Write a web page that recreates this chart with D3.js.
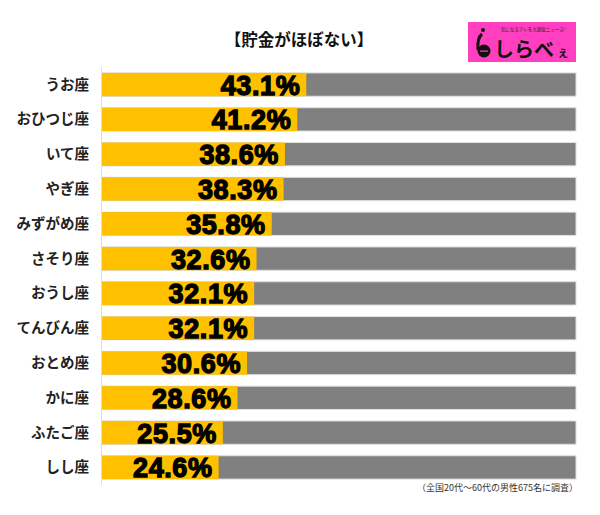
<!DOCTYPE html>
<html><head><meta charset="utf-8">
<script src="https://cdn.jsdelivr.net/npm/d3@7"></script>
<style>body{margin:0;background:#fff}</style>
</head><body>
<script>
const categories = ["うお座","おひつじ座","いて座","やぎ座","みずがめ座","さそり座","おうし座","てんびん座","おとめ座","かに座","ふたご座","しし座"];
const values = [43.1,41.2,38.6,38.3,35.8,32.6,32.1,32.1,30.6,28.6,25.5,24.6];
const title = "【貯金がほぼない】";
const note = "（全国20代～60代の男性675名に調査）";

const W = 600, H = 515;
const svg = d3.select("body").append("svg").attr("width", W).attr("height", H)
  .style("font-family", "'Noto Sans CJK JP', sans-serif");

const x = d3.scaleLinear().domain([0, 100]).range([102, 576]);
const y = d3.scaleBand().domain(categories).range([67, 485]).paddingInner(0.33).paddingOuter(0.17);

// title
svg.append("text").attr("x", 299).attr("y", 46).attr("text-anchor", "middle")
  .attr("font-size", 16.5).attr("font-weight", "bold").attr("fill", "#111").text(title);

// logo
const logo = svg.append("g");
logo.append("rect").attr("x", 468).attr("y", 22).attr("width", 108).attr("height", 40).attr("fill", "#ff3fbf");
logo.append("text").attr("x", 533).attr("y", 30.5).attr("text-anchor", "middle").attr("font-size", 4.5)
  .attr("fill", "#222").text("気になるアレを大調査ニュース!");
logo.append("circle").attr("cx", 484).attr("cy", 51).attr("r", 6.5).attr("fill", "#111");
logo.append("path").attr("d", "M478,50 Q477,38 482,34").attr("stroke", "#111").attr("stroke-width", 3).attr("fill", "none");
logo.append("circle").attr("cx", 483).attr("cy", 30).attr("r", 2).attr("fill", "#111");
logo.append("rect").attr("x", 480).attr("y", 50.5).attr("width", 8).attr("height", 1.2).attr("fill", "#ff3fbf");
logo.append("text").attr("x", 494).attr("y", 57).attr("font-size", 20).attr("font-weight", "bold")
  .attr("fill", "#111").text("しらべ");
logo.append("text").attr("x", 557).attr("y", 57).attr("font-size", 12).attr("font-weight", "bold")
  .attr("fill", "#111").text("ぇ");

// axis line
svg.append("line").attr("x1", 101.5).attr("x2", 101.5).attr("y1", 67).attr("y2", 485)
  .attr("stroke", "#ddd").attr("stroke-width", 1);

const rows = svg.append("g").selectAll("g").data(categories).join("g");

rows.append("rect").attr("x", x(0)).attr("y", d => y(d)).attr("width", x(100) - x(0))
  .attr("height", y.bandwidth()).attr("fill", "#808080").attr("stroke", "#e0e0e0").attr("stroke-width", 1);
rows.append("rect").attr("x", x(0)).attr("y", d => y(d))
  .attr("width", (d, i) => x(values[i]) - x(0)).attr("height", y.bandwidth()).attr("fill", "#ffc000");

rows.append("text").attr("x", (d, i) => x(values[i]) - 6).attr("y", d => y(d) + y.bandwidth() / 2 + 10)
  .attr("text-anchor", "end").attr("font-family", "'Liberation Sans', Arial, sans-serif")
  .attr("font-size", 27).attr("font-weight", "bold").attr("letter-spacing", 0.6)
  .attr("fill", "#000").attr("stroke", "#000").attr("stroke-width", 1.3)
  .text((d, i) => values[i].toFixed(1) + "%");

rows.append("text").attr("x", 89).attr("y", d => y(d) + y.bandwidth() / 2 + 5)
  .attr("text-anchor", "end").attr("font-size", 14.5).attr("font-weight", "bold").attr("fill", "#222")
  .text(d => d);

svg.append("text").attr("x", 578).attr("y", 491).attr("text-anchor", "end")
  .attr("font-size", 9).attr("fill", "#333").text(note);
</script>
</body></html>
